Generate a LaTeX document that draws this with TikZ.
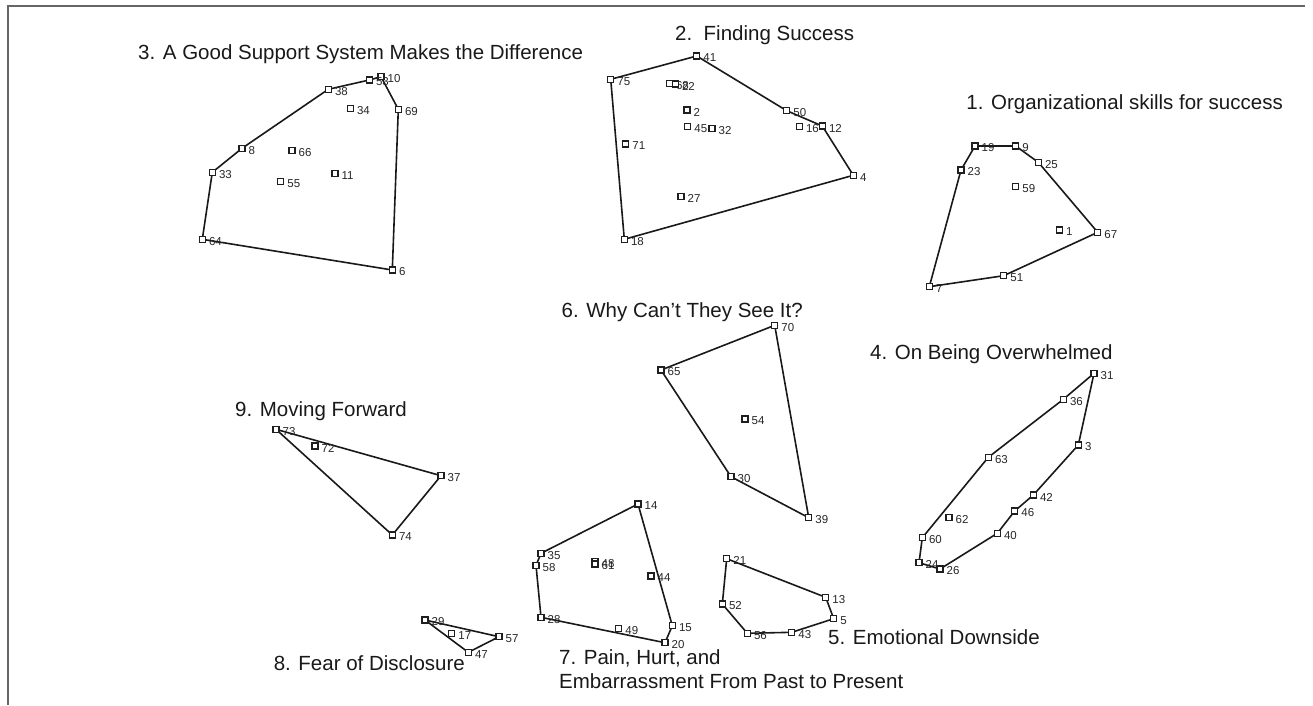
\documentclass[tikz,border=0pt]{standalone}
\usepackage{fontspec}
\setmainfont{Liberation Sans}
\pgfdeclarelayer{bg}
\pgfsetlayers{bg,main}
\tikzset{
  pt/.style={draw=black!88, fill=white, rectangle, minimum size=5.8pt, inner sep=0pt, line width=1.25pt},
  lbl/.style={anchor=west, inner sep=0pt, text=black!85, font=\fontsize{11.5}{12}\selectfont},
  hull/.style={draw=black!90, line width=1.6pt, line join=round},
  ttl/.style={inner sep=0pt, text=black!90, font=\fontsize{20.5}{25}\selectfont},
  frameline/.style={draw=black!60, line width=1.4pt}
}
\newcommand\pnt[3]{\node[pt] (p#1) at (#2,#3) {};\node[lbl] (l#1) at (#2+6.5,#3+2) {#1};}
\begin{document}
\begin{tikzpicture}[x=1pt,y=-1pt]
\useasboundingbox (0,0) rectangle (1313,705);
% frame
\coordinate (fa) at (8,705);
\coordinate (fb) at (8,6);
\coordinate (fc) at (1305,6);
\draw[frameline] (fa) -- (fb) -- (fc);

% cluster 3
\pnt{10}{381}{76.7}
\pnt{53}{369.3}{80}
\pnt{38}{328.3}{89.3}
\pnt{34}{350.3}{108.7}
\pnt{69}{398.3}{109.3}
\pnt{8}{242}{148.3}
\pnt{66}{292}{150.7}
\pnt{33}{212.3}{172.3}
\pnt{11}{335}{173.3}
\pnt{55}{280.7}{181.3}
\pnt{64}{202.3}{239.3}
\pnt{6}{392.3}{270}
% cluster 2
\pnt{41}{696.7}{56}
\pnt{75}{610.7}{79.3}
\pnt{68}{669.3}{83.3}
\pnt{22}{675.3}{84}
\pnt{2}{687}{110}
\pnt{50}{786.7}{110.7}
\pnt{45}{687.7}{126.7}
\pnt{32}{712}{128.3}
\pnt{16}{799.3}{126.7}
\pnt{12}{822.3}{126}
\pnt{71}{625.7}{144}
\pnt{4}{853.3}{175.3}
\pnt{27}{681}{196.7}
\pnt{18}{624.3}{239.3}
% cluster 1
\pnt{19}{975}{146}
\pnt{9}{1015.7}{146}
\pnt{25}{1038.3}{162.3}
\pnt{23}{961}{170}
\pnt{59}{1015.7}{186.7}
\pnt{1}{1059.3}{230}
\pnt{67}{1097.7}{232.3}
\pnt{51}{1003.7}{275.7}
\pnt{7}{929.3}{286.7}
% cluster 6
\pnt{70}{774.7}{325.3}
\pnt{65}{661}{370}
\pnt{54}{745}{419}
\pnt{30}{731}{476.7}
\pnt{39}{808.7}{517.7}
% cluster 4
\pnt{31}{1094}{373.3}
\pnt{36}{1063.3}{399.3}
\pnt{3}{1078.3}{445}
\pnt{63}{988.3}{457.3}
\pnt{42}{1033.3}{495}
\pnt{46}{1014.7}{511}
\pnt{62}{949}{517.7}
\pnt{40}{997.3}{533.3}
\pnt{60}{922.3}{537.7}
\pnt{24}{919}{562.7}
\pnt{26}{940}{569}
% cluster 7
\pnt{14}{638}{504}
\pnt{35}{541}{553.3}
\pnt{58}{536}{565.3}
\pnt{48}{595}{561.3}
\pnt{61}{595}{564}
\pnt{44}{651}{576}
\pnt{28}{541}{617.3}
\pnt{49}{618.7}{628.7}
\pnt{15}{672.3}{625.7}
\pnt{20}{665}{642.7}
% cluster 5
\pnt{21}{726.7}{558.7}
\pnt{13}{825.7}{597.3}
\pnt{52}{722.3}{604}
\pnt{5}{833.7}{618.7}
\pnt{56}{747.3}{633.3}
\pnt{43}{791.7}{632.3}
% cluster 8
\pnt{29}{425}{620}
\pnt{17}{451.7}{633.3}
\pnt{57}{499}{636.7}
\pnt{47}{468.3}{652.3}
% cluster 9
\pnt{73}{276}{429.3}
\pnt{72}{315}{446}
\pnt{37}{441}{475.7}
\pnt{74}{392.3}{535}

\begin{pgfonlayer}{bg}
\draw[hull] (p10.center) -- (p69.center) -- (p6.center) -- (p64.center) -- (p33.center) -- (p8.center) -- (p38.center) -- (p53.center) -- cycle;
\draw[hull] (p41.center) -- (p50.center) -- (p12.center) -- (p4.center) -- (p18.center) -- (p75.center) -- cycle;
\draw[hull] (p19.center) -- (p9.center) -- (p25.center) -- (p67.center) -- (p51.center) -- (p7.center) -- (p23.center) -- cycle;
\draw[hull] (p70.center) -- (p39.center) -- (p30.center) -- (p65.center) -- cycle;
\draw[hull] (p31.center) -- (p3.center) -- (p42.center) -- (p46.center) -- (p40.center) -- (p26.center) -- (p24.center) -- (p60.center) -- (p63.center) -- (p36.center) -- cycle;
\draw[hull] (p14.center) -- (p15.center) -- (p20.center) -- (p28.center) -- (p58.center) -- (p35.center) -- cycle;
\draw[hull] (p21.center) -- (p13.center) -- (p5.center) -- (p43.center) -- (p56.center) -- (p52.center) -- cycle;
\draw[hull] (p29.center) -- (p57.center) -- (p47.center) -- cycle;
\draw[hull] (p73.center) -- (p37.center) -- (p74.center) -- cycle;
\end{pgfonlayer}

% titles
\node[ttl, anchor=base west] (t3) at (138,59.3) {3. A Good Support System Makes the Difference};
\node[ttl, anchor=base west] (t2) at (675,40.7) {2.\ \ Finding Success};
\node[ttl, anchor=base east] (t1) at (1283,109) {1. Organizational skills for success};
\node[ttl, anchor=base east] (t6) at (803,317) {6. Why Can’t They See It?};
\node[ttl, anchor=base west] (t4) at (870,359) {4. On Being Overwhelmed};
\node[ttl, anchor=base east] (t9) at (407,416) {9. Moving Forward};
\node[ttl, anchor=base west] (t7a) at (559,664) {7. Pain, Hurt, and};
\node[ttl, anchor=base west] (t7b) at (559,688) {Embarrassment From Past to Present};
\node[ttl, anchor=base west] (t5) at (828,644) {5. Emotional Downside};
\node[ttl, anchor=base east] (t8) at (465,670) {8. Fear of Disclosure};
\end{tikzpicture}
\end{document}
